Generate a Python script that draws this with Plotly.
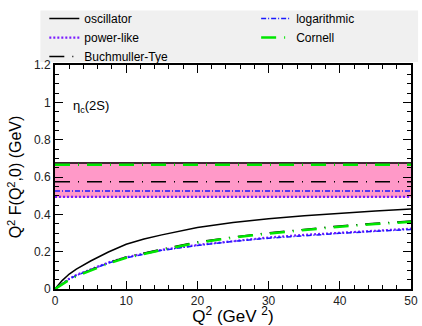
import plotly.graph_objects as go

# Curves: Q^2 F(Q^2,0) vs Q^2
q2 = [0, 1, 2, 3, 5, 7.5, 10, 12.5, 15, 20, 25, 30, 35, 40, 45, 50]
osc = [0, 0.045, 0.08, 0.107, 0.15, 0.198, 0.24, 0.268, 0.29, 0.33, 0.356, 0.377, 0.393, 0.407, 0.418, 0.428]
power = [0, 0.03, 0.055, 0.075, 0.106, 0.142, 0.17, 0.192, 0.21, 0.236, 0.258, 0.276, 0.29, 0.302, 0.313, 0.323]
bt = [0, 0.028, 0.052, 0.072, 0.104, 0.14, 0.172, 0.195, 0.214, 0.252, 0.279, 0.301, 0.321, 0.338, 0.352, 0.364]
loga = [0, 0.029, 0.053, 0.073, 0.104, 0.139, 0.167, 0.189, 0.207, 0.233, 0.255, 0.272, 0.286, 0.298, 0.309, 0.319]
corn = [0, 0.026, 0.049, 0.069, 0.1, 0.136, 0.167, 0.19, 0.209, 0.248, 0.275, 0.297, 0.317, 0.334, 0.348, 0.36]

# Asymptotic values (horizontal lines)
asym = {"oscillator": 0.675, "power-like": 0.494, "Buchmuller-Tye": 0.574,
        "logarithmic": 0.525, "Cornell": 0.665}
band = [0.49, 0.68]
xrange_ = [0, 50]

styles = {
    "oscillator": dict(color="black", width=1.5, dash="solid"),
    "power-like": dict(color="#7a1cff", width=2.2, dash="2px,2px"),
    "Buchmuller-Tye": dict(color="black", width=1.5, dash="15px,8px,1px,8px"),
    "logarithmic": dict(color="#1a1aff", width=1.5, dash="5px,2px,1px,2px"),
    "Cornell": dict(color="#00e600", width=2.5, dash="15px,8px,1px,8px"),
}
data = {"oscillator": osc, "power-like": power, "Buchmuller-Tye": bt,
        "logarithmic": loga, "Cornell": corn}
legend_of = {"oscillator": "legend", "power-like": "legend", "Buchmuller-Tye": "legend",
             "logarithmic": "legend2", "Cornell": "legend2"}

fig = go.Figure()
fig.add_trace(go.Scatter(x=[xrange_[0], xrange_[1], xrange_[1], xrange_[0]],
                         y=[band[0], band[0], band[1], band[1]],
                         fill="toself", fillcolor="#ff99c8", line=dict(width=0),
                         mode="lines", showlegend=False, hoverinfo="skip"))

for name in ["oscillator", "power-like", "Buchmuller-Tye", "logarithmic", "Cornell"]:
    fig.add_trace(go.Scatter(x=q2 + [None] + xrange_,
                             y=data[name] + [None] + [asym[name], asym[name]],
                             mode="lines", name=name, line=styles[name],
                             legend=legend_of[name]))

fig.add_annotation(x=2.2, y=0.98, xref="x", yref="y", text="η<sub>c</sub>(2S)",
                   showarrow=False, xanchor="left", yanchor="middle",
                   font=dict(size=13, color="black"))

# legend background box
fig.add_shape(type="rect", xref="paper", yref="paper", x0=-0.041, x1=1.02,
              y0=1.013, y1=1.243, fillcolor="#f0f0f0", line=dict(width=0), layer="below")

axis_common = dict(showgrid=False, zeroline=False, showline=True, linecolor="black",
                   linewidth=2, mirror="ticks", ticks="inside", tickcolor="black",
                   tickwidth=1, ticklen=8, tickfont=dict(size=12, color="#222"),
                   ticklabeloverflow="allow")
fig.update_layout(
    width=422, height=326,
    margin=dict(l=55, r=4, t=63, b=33),
    paper_bgcolor="white", plot_bgcolor="white",
    font=dict(family="Liberation Sans, Arial, sans-serif", color="black"),
    xaxis=dict(range=[0, 50], dtick=10, tick0=0,
               minor=dict(dtick=2, ticks="inside", ticklen=4, tickcolor="black"),
               title=dict(text="Q<sup>2</sup> (GeV <sup>2</sup>)", font=dict(size=17), standoff=2),
               **axis_common),
    yaxis=dict(range=[0, 1.2], dtick=0.2, tick0=0,
               minor=dict(dtick=0.05, ticks="inside", ticklen=4, tickcolor="black"),
               title=dict(text="Q<sup>2</sup> F(Q<sup>2</sup>,0) (GeV)", font=dict(size=16), standoff=8),
               **axis_common),
    legend=dict(x=-0.03, y=1.272, xanchor="left", yanchor="top", bgcolor="rgba(0,0,0,0)",
                font=dict(size=12), tracegroupgap=0, itemwidth=30),
    legend2=dict(x=0.565, y=1.272, xanchor="left", yanchor="top", bgcolor="rgba(0,0,0,0)",
                 font=dict(size=12), tracegroupgap=0, itemwidth=30),
)

fig.write_html("out.html")
